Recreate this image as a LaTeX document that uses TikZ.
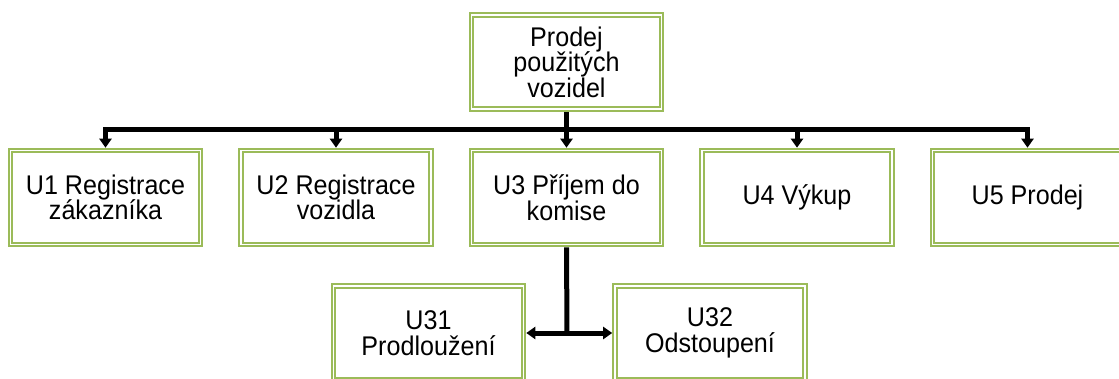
\documentclass[tikz,border=0pt]{standalone}
\usepackage{fontspec}
\setmainfont{Liberation Sans}[FakeStretch=0.93]
\usetikzlibrary{arrows.meta}
\definecolor{boxgreen}{RGB}{155,187,89}
\tikzset{
  ubox/.style={draw=boxgreen, double=white, line width=2pt, double distance=1.6pt,
    fill=white, minimum width=190pt, minimum height=94pt, inner sep=0pt,
    outer sep=2.8pt, align=center, font=\fontsize{27pt}{25.5pt}\selectfont},
  conn/.style={line width=5pt, draw=black, line cap=rect},
  arr/.style={line width=5pt, draw=black, -{Triangle[width=12pt,length=9pt]}},
  arr2/.style={line width=5pt, draw=black, {Triangle[width=12pt,length=9pt]}-{Triangle[width=12pt,length=9pt]}}
}
\begin{document}
\begin{tikzpicture}[x=1pt,y=-1pt]
\useasboundingbox (0,0) rectangle (1119,379);
\fill[white] (0,0) rectangle (1119,379);
\begin{scope}
\clip (0,0) rectangle (1119,379);
\node[ubox] (top) at (566.5,62) {Prodej\\použitých\\vozidel};
\node[ubox] (u1) at (105.5,197.5) {U1 Registrace\\zákazníka};
\node[ubox] (u2) at (336,197.5) {U2 Registrace\\vozidla};
\node[ubox] (u3) at (566.5,197.5) {U3 Příjem do\\komise};
\node[ubox] (u4) at (797,197.5) {U4 Výkup};
\node[ubox] (u5) at (1027.5,197.5) {U5 Prodej};
\node[ubox] (u31) at (428.5,333) {U31\\Prodloužení};
\node[ubox] (u32) at (710,333) {U32\\Odstoupení};
\coordinate (bus) at (566.5,130);
\coordinate (split) at (567,333);
\draw[line width=5pt] (top.south) -- (top.south |- bus);
\draw[conn] (u1.north |- bus) -- (u5.north |- bus);
\foreach \n in {u1,u2,u3,u4,u5} {
  \draw[arr] (\n.north |- bus) -- (\n.north);
}
\draw[line width=5pt] (u3.south) -- (split);
\draw[arr2] (u31.east) -- (u32.west);
\end{scope}
\end{tikzpicture}
\end{document}
